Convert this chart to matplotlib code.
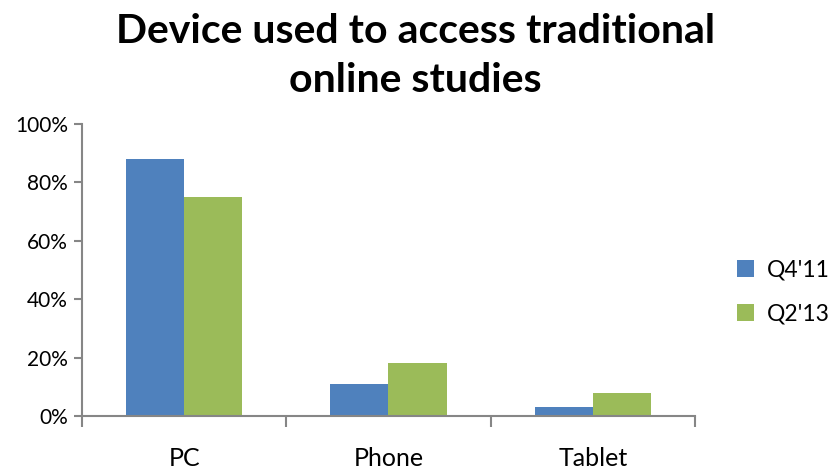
import numpy as np
import matplotlib.pyplot as plt
from matplotlib.ticker import PercentFormatter

plt.rcParams['font.family'] = ['Lato', 'DejaVu Sans']

devices = ['PC', 'Phone', 'Tablet']
series_names = ["Q4'11", "Q2'13"]
q4_11 = [0.88, 0.11, 0.03]
q2_13 = [0.75, 0.18, 0.08]
colors = ['#4F81BD', '#9BBB59']

fig = plt.figure(figsize=(8.31, 4.75), dpi=100)
ax = fig.add_axes([0.0987, 0.1242, 0.7376, 0.6148])

x = np.arange(len(devices))
w = 0.285
ax.bar(x - w / 2, q4_11, w, color=colors[0], label=series_names[0])
ax.bar(x + w / 2, q2_13, w, color=colors[1], label=series_names[1])

ax.set_xlim(-0.5, len(devices) - 0.5)
ax.set_ylim(0, 1)
ax.yaxis.set_major_formatter(PercentFormatter(1.0, decimals=0))
ax.set_yticks(np.arange(0, 1.01, 0.2))

# category boundaries as ticks, names centred between them
ax.set_xticks(np.arange(-0.5, len(devices), 1.0))
ax.set_xticklabels([])
ax.set_xticks(x, minor=True)
ax.set_xticklabels(devices, minor=True, fontsize=18)
ax.tick_params(axis='x', which='major', length=8, width=1.5, color='#868686', direction='out')
ax.tick_params(axis='x', which='minor', length=0, pad=22)
ax.tick_params(axis='y', length=6, width=1.5, color='#868686', labelsize=15, pad=4)

for side in ['top', 'right']:
    ax.spines[side].set_visible(False)
for side in ['left', 'bottom']:
    ax.spines[side].set_color('#868686')
    ax.spines[side].set_linewidth(1.5)

fig.text(0.5, 0.882, 'Device used to access traditional\nonline studies', fontsize=29.5,
         fontweight='bold', ha='center', va='center', linespacing=1.42)

ax.legend(loc='center left', bbox_to_anchor=(1.035, 0.425), frameon=False,
          fontsize=16.5, handlelength=0.75, handleheight=0.75, labelspacing=1.0,
          handletextpad=0.55)

fig.savefig('out.png', dpi=100)
